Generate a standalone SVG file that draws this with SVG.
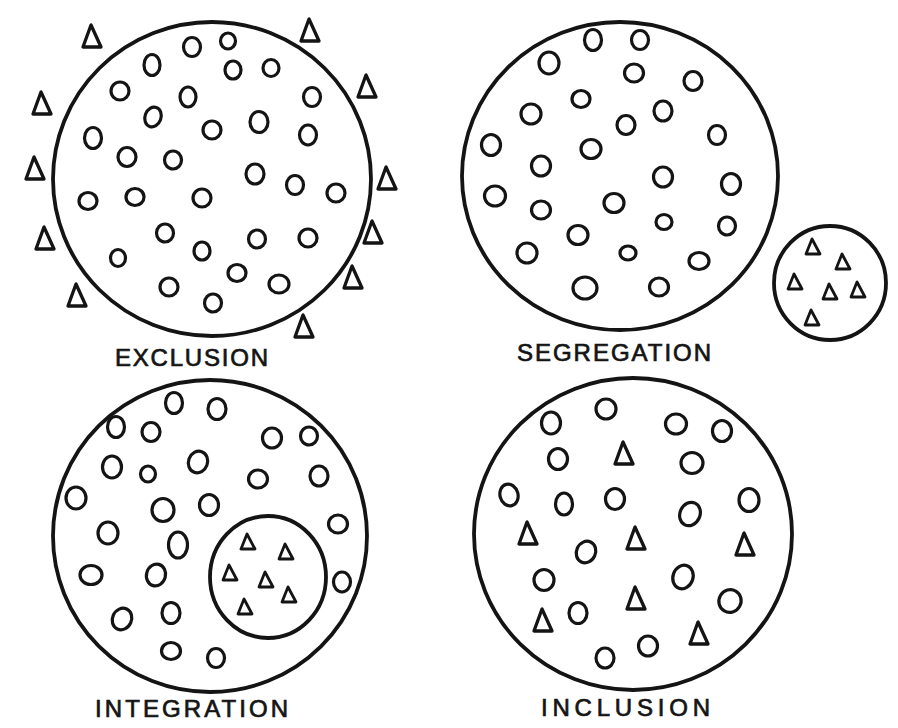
<svg xmlns="http://www.w3.org/2000/svg" xmlns:xlink="http://www.w3.org/1999/xlink" width="898" height="728" viewBox="0 0 898 728">
<style>
.big{fill:none;stroke:#141414;stroke-width:3.8}
.o{fill:none;stroke:#141414;stroke-width:3.2}
.t{fill:none;stroke:#141414;stroke-width:3.3;stroke-linejoin:round}
.ts{fill:none;stroke:#141414;stroke-width:2.8;stroke-linejoin:round}
.lbl{font-family:"Liberation Sans","DejaVu Sans",sans-serif;font-size:24px;fill:#141414;stroke:#141414;stroke-width:0.7;letter-spacing:2px}
</style>
<defs>
<path id="tri" d="M-1,-11 L-9,11 L9,11 Z"/>
<path id="tris" d="M-1,-8 L-7,7 L7,7 Z"/>
</defs>
<rect width="898" height="728" fill="#ffffff"/>

<g id="exclusion">
<ellipse class="big" cx="212" cy="179" rx="159" ry="157"/>
<g>
<ellipse class="o" cx="192" cy="47" rx="8.5" ry="9.5"/>
<ellipse class="o" cx="228" cy="41" rx="7.5" ry="8"/>
<ellipse class="o" cx="152" cy="65" rx="8" ry="10.5"/>
<ellipse class="o" cx="233" cy="70" rx="8" ry="9"/>
<ellipse class="o" cx="271" cy="68" rx="8" ry="8.5"/>
<ellipse class="o" cx="120" cy="91" rx="9" ry="9"/>
<ellipse class="o" cx="188" cy="97" rx="8" ry="10"/>
<ellipse class="o" cx="312" cy="97" rx="8.5" ry="9.5"/>
<ellipse class="o" cx="153" cy="117" rx="8" ry="10" transform="rotate(20 153 117)"/>
<ellipse class="o" cx="212" cy="130" rx="9" ry="9"/>
<ellipse class="o" cx="259" cy="122" rx="9" ry="10.5"/>
<ellipse class="o" cx="308" cy="135" rx="8.5" ry="10"/>
<ellipse class="o" cx="93" cy="138" rx="8.5" ry="10.5"/>
<ellipse class="o" cx="127" cy="157" rx="9" ry="9.5"/>
<ellipse class="o" cx="173" cy="160" rx="8.5" ry="9"/>
<ellipse class="o" cx="255" cy="174" rx="9" ry="10"/>
<ellipse class="o" cx="295" cy="185" rx="8.5" ry="9.5"/>
<ellipse class="o" cx="336" cy="193" rx="9" ry="9"/>
<ellipse class="o" cx="88" cy="201" rx="9" ry="8.5"/>
<ellipse class="o" cx="135" cy="197" rx="9" ry="8.5"/>
<ellipse class="o" cx="202" cy="198" rx="9" ry="9"/>
<ellipse class="o" cx="165" cy="233" rx="8.5" ry="9"/>
<ellipse class="o" cx="202" cy="251" rx="8" ry="9"/>
<ellipse class="o" cx="257" cy="239" rx="8.5" ry="9"/>
<ellipse class="o" cx="308" cy="238" rx="9" ry="9"/>
<ellipse class="o" cx="118" cy="258" rx="7.5" ry="8.5"/>
<ellipse class="o" cx="237" cy="273" rx="9" ry="8.5"/>
<ellipse class="o" cx="279" cy="284" rx="10" ry="9"/>
<ellipse class="o" cx="169" cy="287" rx="9" ry="9"/>
<ellipse class="o" cx="213" cy="303" rx="8.5" ry="9"/>
</g>
<g>
<use href="#tri" class="t" x="92" y="36"/>
<use href="#tri" class="t" x="310" y="30"/>
<use href="#tri" class="t" x="42" y="103"/>
<use href="#tri" class="t" x="367" y="86"/>
<use href="#tri" class="t" x="35" y="168"/>
<use href="#tri" class="t" x="387" y="178"/>
<use href="#tri" class="t" x="45" y="238"/>
<use href="#tri" class="t" x="373" y="232"/>
<use href="#tri" class="t" x="77" y="295"/>
<use href="#tri" class="t" x="353" y="277"/>
<use href="#tri" class="t" x="304" y="326"/>
</g>
<text class="lbl" x="115" y="366" textLength="155" lengthAdjust="spacing">EXCLUSION</text>
</g>

<g id="segregation">
<ellipse class="big" cx="620" cy="176" rx="158" ry="154"/>
<g>
<ellipse class="o" cx="593" cy="40" rx="8.5" ry="10.5"/>
<ellipse class="o" cx="640" cy="40" rx="8.5" ry="9.5"/>
<ellipse class="o" cx="549" cy="63" rx="10" ry="11"/>
<ellipse class="o" cx="634" cy="73" rx="9.5" ry="9"/>
<ellipse class="o" cx="693" cy="81" rx="9" ry="9.5"/>
<ellipse class="o" cx="581" cy="99" rx="9" ry="8.5"/>
<ellipse class="o" cx="663" cy="111" rx="9" ry="10"/>
<ellipse class="o" cx="531" cy="114" rx="10" ry="10"/>
<ellipse class="o" cx="626" cy="125" rx="9" ry="9.5"/>
<ellipse class="o" cx="717" cy="135" rx="8.5" ry="9.5"/>
<ellipse class="o" cx="491" cy="145" rx="9.5" ry="10.5"/>
<ellipse class="o" cx="591" cy="149" rx="10" ry="9.5"/>
<ellipse class="o" cx="541" cy="166" rx="9.5" ry="10"/>
<ellipse class="o" cx="663" cy="177" rx="9.5" ry="10"/>
<ellipse class="o" cx="731" cy="184" rx="9.5" ry="10.5"/>
<ellipse class="o" cx="495" cy="196" rx="10.5" ry="10"/>
<ellipse class="o" cx="614" cy="203" rx="10" ry="9.5"/>
<ellipse class="o" cx="541" cy="210" rx="9.5" ry="9"/>
<ellipse class="o" cx="664" cy="222" rx="8" ry="7.5"/>
<ellipse class="o" cx="727" cy="226" rx="8.5" ry="9"/>
<ellipse class="o" cx="578" cy="235" rx="10" ry="9.5"/>
<ellipse class="o" cx="527" cy="253" rx="10" ry="10"/>
<ellipse class="o" cx="628" cy="253" rx="8" ry="7"/>
<ellipse class="o" cx="699" cy="261" rx="10" ry="8.5"/>
<ellipse class="o" cx="585" cy="288" rx="12" ry="11"/>
<ellipse class="o" cx="659" cy="287" rx="9.5" ry="9"/>
</g>
<text class="lbl" x="517" y="361" textLength="196" lengthAdjust="spacing">SEGREGATION</text>
</g>

<g id="segregated-group">
<ellipse class="big" cx="830" cy="283" rx="56" ry="57"/>
<use href="#tris" class="ts" x="813" y="247"/>
<use href="#tris" class="ts" x="843" y="262"/>
<use href="#tris" class="ts" x="795" y="282"/>
<use href="#tris" class="ts" x="830" y="292"/>
<use href="#tris" class="ts" x="858" y="290"/>
<use href="#tris" class="ts" x="812" y="318"/>
</g>

<g id="integration">
<ellipse class="big" cx="210" cy="536" rx="157" ry="156"/>
<g>
<ellipse class="o" cx="174" cy="403" rx="8.5" ry="10.5"/>
<ellipse class="o" cx="217" cy="409" rx="9" ry="10.5"/>
<ellipse class="o" cx="116" cy="427" rx="8.5" ry="10.5"/>
<ellipse class="o" cx="151" cy="432" rx="9" ry="9.5"/>
<ellipse class="o" cx="272" cy="438" rx="9.5" ry="10"/>
<ellipse class="o" cx="309" cy="436" rx="8.5" ry="9"/>
<ellipse class="o" cx="112" cy="467" rx="9.5" ry="11"/>
<ellipse class="o" cx="148" cy="474" rx="7.5" ry="8"/>
<ellipse class="o" cx="198" cy="462" rx="9.5" ry="11" transform="rotate(20 198 462)"/>
<ellipse class="o" cx="258" cy="479" rx="9.5" ry="9"/>
<ellipse class="o" cx="319" cy="476" rx="9" ry="10"/>
<ellipse class="o" cx="76" cy="498" rx="10" ry="11"/>
<ellipse class="o" cx="163" cy="510" rx="11" ry="11.5"/>
<ellipse class="o" cx="209" cy="505" rx="9.5" ry="10.5"/>
<ellipse class="o" cx="108" cy="533" rx="10" ry="11"/>
<ellipse class="o" cx="178" cy="545" rx="9.5" ry="13"/>
<ellipse class="o" cx="338" cy="524" rx="9.5" ry="9"/>
<ellipse class="o" cx="91" cy="575" rx="11" ry="9.5"/>
<ellipse class="o" cx="156" cy="575" rx="9.5" ry="11" transform="rotate(15 156 575)"/>
<ellipse class="o" cx="342" cy="582" rx="8.5" ry="10"/>
<ellipse class="o" cx="122" cy="619" rx="9.5" ry="11" transform="rotate(25 122 619)"/>
<ellipse class="o" cx="171" cy="613" rx="9" ry="10.5"/>
<ellipse class="o" cx="171" cy="651" rx="9.5" ry="8.5"/>
<ellipse class="o" cx="216" cy="658" rx="8.5" ry="9.5"/>
</g>
<g id="integrated-group">
<ellipse class="big" cx="268" cy="577" rx="58" ry="61"/>
<use href="#tris" class="ts" x="248" y="542"/>
<use href="#tris" class="ts" x="286" y="552"/>
<use href="#tris" class="ts" x="230" y="573"/>
<use href="#tris" class="ts" x="266" y="580"/>
<use href="#tris" class="ts" x="289" y="595"/>
<use href="#tris" class="ts" x="245" y="607"/>
</g>
<text class="lbl" x="95" y="717" textLength="195" lengthAdjust="spacing">INTEGRATION</text>
</g>

<g id="inclusion">
<ellipse class="big" cx="633" cy="534" rx="159" ry="156"/>
<g>
<ellipse class="o" cx="606" cy="409" rx="10" ry="10"/>
<ellipse class="o" cx="551" cy="423" rx="9.5" ry="11"/>
<ellipse class="o" cx="676" cy="424" rx="10.5" ry="10"/>
<ellipse class="o" cx="722" cy="431" rx="9.5" ry="10.5"/>
<ellipse class="o" cx="558" cy="459" rx="9.5" ry="10.5"/>
<ellipse class="o" cx="692" cy="463" rx="11" ry="10.5"/>
<ellipse class="o" cx="509" cy="495" rx="9" ry="11" transform="rotate(-15 509 495)"/>
<ellipse class="o" cx="564" cy="504" rx="8.5" ry="11"/>
<ellipse class="o" cx="615" cy="499" rx="9.5" ry="10.5"/>
<ellipse class="o" cx="749" cy="500" rx="10" ry="11.5"/>
<ellipse class="o" cx="690" cy="514" rx="10" ry="12" transform="rotate(25 690 514)"/>
<ellipse class="o" cx="586" cy="552" rx="9.5" ry="11" transform="rotate(25 586 552)"/>
<ellipse class="o" cx="544" cy="580" rx="10" ry="10.5"/>
<ellipse class="o" cx="683" cy="577" rx="10" ry="12" transform="rotate(20 683 577)"/>
<ellipse class="o" cx="578" cy="613" rx="9" ry="10.5"/>
<ellipse class="o" cx="730" cy="601" rx="11" ry="11.5" transform="rotate(30 730 601)"/>
<ellipse class="o" cx="605" cy="658" rx="9" ry="10"/>
<ellipse class="o" cx="648" cy="646" rx="9.5" ry="10"/>
</g>
<g>
<use href="#tri" class="t" x="624" y="453"/>
<use href="#tri" class="t" x="528" y="533"/>
<use href="#tri" class="t" x="636" y="538"/>
<use href="#tri" class="t" x="745" y="544"/>
<use href="#tri" class="t" x="636" y="598"/>
<use href="#tri" class="t" x="543" y="620"/>
<use href="#tri" class="t" x="699" y="633"/>
</g>
<text class="lbl" x="541" y="716" textLength="171" lengthAdjust="spacing">INCLUSION</text>
</g>
</svg>
